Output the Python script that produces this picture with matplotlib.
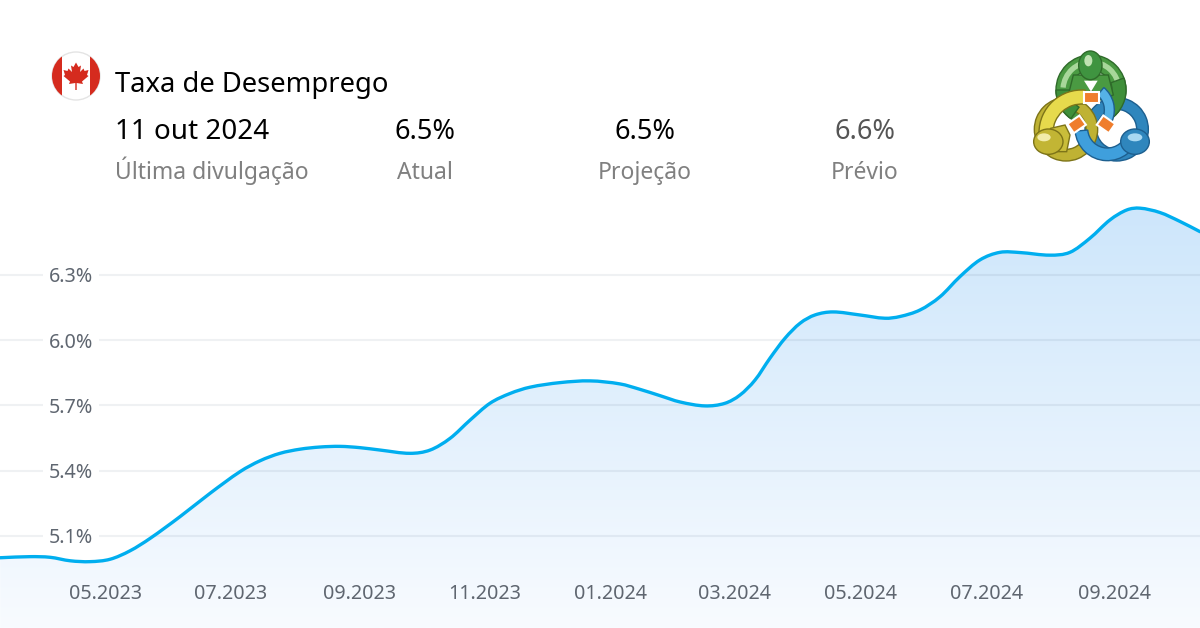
import numpy as np
import matplotlib
matplotlib.use("Agg")
import matplotlib.pyplot as plt
import matplotlib.dates as mdates
from matplotlib.path import Path
from matplotlib.patches import PathPatch, Circle, Rectangle, Polygon, Wedge, Ellipse
from matplotlib.transforms import Affine2D
from matplotlib.colors import LinearSegmentedColormap

title = "Taxa de Desemprego"
release_date = "11 out 2024"
stat_values = ["6.5%", "6.5%", "6.6%"]
stat_labels = ["Atual", "Projeção", "Prévio"]

start_date = "2023-05-01"
days = [-50.8,-36.3,-26.6,-16.9,-7.3,2.4,12.1,21.8,36.3,50.8,65.4,75.1,84.7,94.4,104.1,113.8,123.5,133.2,
        147.7,157.4,167.1,176.8,186.4,196.1,205.8,220.3,234.9,249.4,259.1,268.8,278.5,290.6,300.2,307.5,
        314.8,322.0,329.3,336.6,343.8,352.5,365.6,377.7,385.0,394.7,404.4,414.0,423.7,433.4,443.1,457.6,
        467.3,477.0,486.7,494.9,501.2,510.9,520.6,530.3]
rates = [5.000,5.005,5.002,4.986,4.982,4.993,5.032,5.089,5.189,5.296,5.396,5.446,5.480,5.499,5.509,5.512,
         5.506,5.495,5.480,5.495,5.549,5.633,5.710,5.755,5.784,5.805,5.813,5.799,5.774,5.745,5.716,5.698,
         5.710,5.748,5.817,5.917,6.009,6.078,6.116,6.130,6.116,6.101,6.109,6.139,6.200,6.292,6.369,6.404,
         6.403,6.391,6.404,6.469,6.553,6.599,6.607,6.587,6.546,6.499]
x_tick_dates = ["2023-05-01","2023-07-01","2023-09-01","2023-11-01","2024-01-01","2024-03-01",
                "2024-05-01","2024-07-01","2024-09-01"]
x_tick_labels = ["05.2023","07.2023","09.2023","11.2023","01.2024","03.2024","05.2024","07.2024","09.2024"]
y_ticks = [5.1, 5.4, 5.7, 6.0, 6.3]
y_tick_labels = ["5.1%", "5.4%", "5.7%", "6.0%", "6.3%"]

plt.rcParams['font.family'] = ['Noto Sans', 'DejaVu Sans']
fig = plt.figure(figsize=(12, 6.28), dpi=100, facecolor='white')
ax = fig.add_axes([0, 0, 1, 1])

base = mdates.date2num(np.datetime64(start_date))
xs = base + np.array(days)
ys = np.array(rates)

# smooth curve through the read points (Hermite tangents drawn as Beziers)
n = len(xs)
slopes = np.empty(n)
slopes[1:-1] = (ys[2:] - ys[:-2]) / (xs[2:] - xs[:-2])
slopes[0] = (ys[1] - ys[0]) / (xs[1] - xs[0])
slopes[-1] = (ys[-1] - ys[-2]) / (xs[-1] - xs[-2])
verts = [(xs[0], ys[0])]
codes = [Path.MOVETO]
for i in range(n - 1):
    h = (xs[i+1] - xs[i]) / 3
    verts += [(xs[i] + h, ys[i] + slopes[i]*h), (xs[i+1] - h, ys[i+1] - slopes[i+1]*h), (xs[i+1], ys[i+1])]
    codes += [Path.CURVE4]*3

y_low, y_high = 4.677, 7.564
x_low, x_high = base - 50.9, base + 530.3

fill_path = Path(verts + [(xs[-1], y_low), (xs[0], y_low), (xs[0], ys[0])],
                 codes + [Path.LINETO, Path.LINETO, Path.LINETO])
cmap = LinearSegmentedColormap.from_list('f', ['#f8fbff', '#cde6fb'])
im = ax.imshow(np.linspace(1, 0, 256).reshape(-1, 1), cmap=cmap, aspect='auto', vmin=0, vmax=1,
               extent=[x_low, x_high, y_low, 6.62], zorder=1, interpolation='bilinear')
clip = PathPatch(fill_path, transform=ax.transData, fc='none', ec='none')
ax.add_patch(clip)
im.set_clip_path(clip)

ax.add_patch(PathPatch(Path(verts, codes), fc='none', ec='#00aeef', lw=2.4, zorder=4, capstyle='round'))

ax.set_xlim(x_low, x_high)
ax.set_ylim(y_low, y_high)
for s in ax.spines.values():
    s.set_visible(False)
ax.set_axisbelow(False)
ax.set_yticks(y_ticks, y_tick_labels)
ax.set_xticks(mdates.date2num(np.array(x_tick_dates, dtype='datetime64[D]')), x_tick_labels)
ax.grid(axis='y', color='#1f3a5f', alpha=0.07, lw=1.5)
ax.tick_params(axis='y', length=0, pad=-67, labelsize=14.2, labelcolor='#5f6670')
ax.tick_params(axis='x', length=0, pad=-31.4, labelsize=14.2, labelcolor='#5f6670')
for lab in ax.get_yticklabels():
    lab.set_bbox(dict(fc='white', ec='none', pad=4.3))

# header text
def T(x, y, s, size, color, ha='left'):
    fig.text(x/1200, 1-y/628, s, fontsize=size, color=color, ha=ha, va='baseline')
T(115, 92, title, 19.7, '#000000')
T(115, 139, release_date, 20, '#000000')
T(115, 179, "Última divulgação", 16.5, '#808080')
for cx, v, l, col in zip([425, 645, 865], stat_values, stat_labels, ['#000000', '#000000', '#555555']):
    T(cx, 139, v, 19.5, col, 'center')
    T(cx, 179, l, 16.5, '#808080', 'center')

# flag
px = Affine2D().scale(1, -1).translate(0, 628)
ring = Circle((76, 76), 24, transform=px, fc='white', ec='#e4e4e4', lw=1, zorder=5, clip_on=False)
fig.add_artist(ring)
for x0, w in [(52, 9.5), (90, 10)]:
    r = Rectangle((x0, 50), w, 52, transform=px, fc='#d52b1e', ec='none', zorder=6)
    fig.add_artist(r)
    r.set_clip_path(Circle((76, 76), 24, transform=px))
leaf = [(76,62.5),(78.5,67),(81,65.5),(80,72),(83.5,68.5),(84.5,71),(88.5,70),(87,75),(88.5,76),(82,81.5),
        (83,84),(76.7,83),(76.7,90),(75.3,90),(75.3,83),(69,84),(70,81.5),(63.5,76),(65,75),(63.5,70),
        (67.5,71),(68.5,68.5),(72,72),(71,65.5),(73.5,67)]
fig.add_artist(Polygon(leaf, closed=True, transform=px, fc='#d52b1e', ec='none', zorder=7))

# logo, in crop units
lg = Affine2D().scale(1/3, 1/3).translate(1020, 40) + px
def add(p):
    p.set_transform(lg)
    p.set_zorder(add.z)
    add.z += 0.01
    fig.add_artist(p)
add.z = 10
dk_g, dk_y, dk_b = '#2f6b2a', '#7d7418', '#1d5f8f'
add(Wedge((213,150), 105, 0, 360, width=45, fc='#4a9a42', ec=dk_g, lw=1))
add(Wedge((213,150), 92, 185, 355, width=16, fc='#a8d79a', ec='none'))
add(Wedge((290,268), 95, 0, 360, width=35, fc='#2f86bd', ec=dk_b, lw=1))
add(Wedge((138,268), 95, 0, 360, width=35, fc='#bfb233', ec=dk_y, lw=1))
add(Wedge((213,150), 105, -20, 50, width=42, fc='#3f8f3a', ec=dk_g, lw=1))
add(Wedge((213,150), 105, 125, 180, width=42, fc='#3f8f3a', ec=dk_g, lw=1))
# green figure
add(Polygon([(160,105),(265,105),(280,165),(240,180),(213,150),(185,180),(145,165)], fc='#4a9a42', ec=dk_g, lw=1))
add(Polygon([(192,122),(233,122),(213,155)], fc='white', ec='none'))
add(Ellipse((211,76), 70, 86, fc='#3f9440', ec=dk_g, lw=1))
add(Ellipse((205,62), 24, 34, fc='#bfe3b2', ec='none'))
# arms
add(Wedge((185,278), 128, 180, 275, width=42, fc='#e6da4c', ec=dk_y, lw=1))
add(Wedge((195,210), 88, -50, 22, width=30, fc='#55b2e6', ec=dk_b, lw=1))
add(Wedge((262,265), 97, 10, 175, width=38, fc='#3f9fdc', ec=dk_b, lw=1))
# yellow and blue figures
add(Polygon([(92,265),(135,255),(150,285),(140,335),(60,335)], fc='#c9bd3a', ec=dk_y, lw=1))
add(Ellipse((85,305), 88, 76, fc='#c2b534', ec=dk_y, lw=1))
add(Ellipse((72,292), 40, 24, fc='#f2ecaa', ec='none'))
add(Ellipse((345,305), 86, 76, fc='#2f86bd', ec=dk_b, lw=1))
add(Ellipse((345,292), 44, 24, fc='#a8d8f2', ec='none'))
# cards
for (cx, cy), ang in zip([(215,173),(170,253),(258,253)], [0, -35, 35]):
    t = Affine2D().rotate_deg_around(cx, cy, ang)
    card = Rectangle((cx-22, cy-17), 44, 34, fc='#ef7d2c', ec='white', lw=1.5)
    card.set_transform(t + lg)
    card.set_zorder(add.z)
    add.z += 0.01
    fig.add_artist(card)

fig.savefig('out.png', dpi=100, facecolor='white')
